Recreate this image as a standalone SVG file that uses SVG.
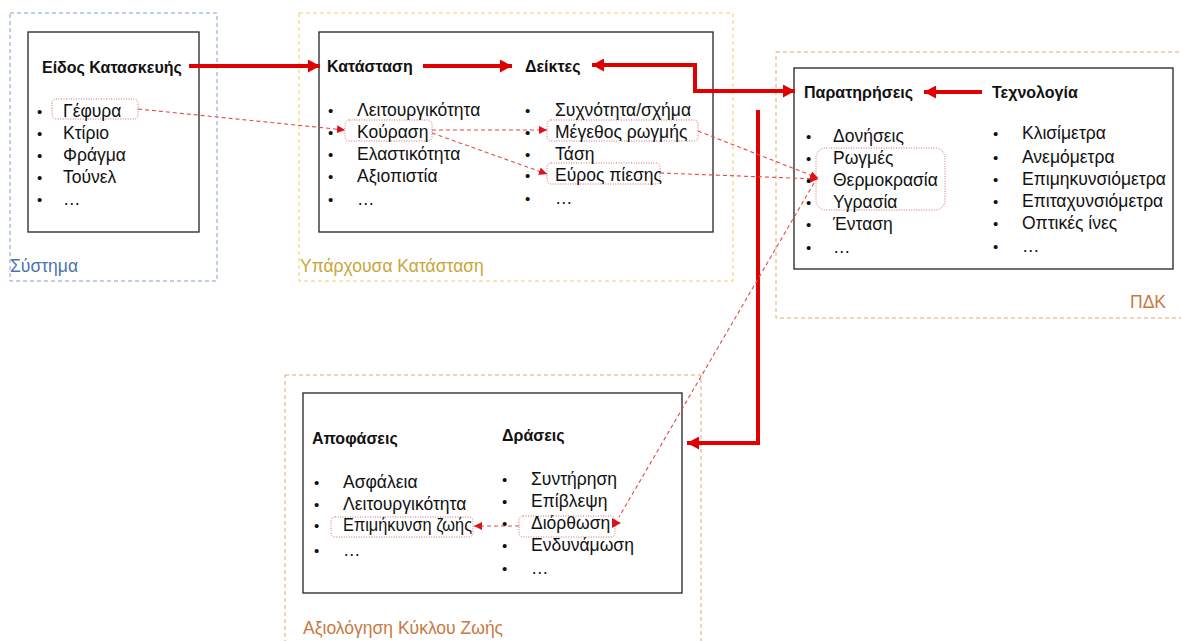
<svg xmlns="http://www.w3.org/2000/svg" width="1181" height="641" viewBox="0 0 1181 641">
  <defs>
    <marker id="bigHead" markerUnits="userSpaceOnUse" markerWidth="12" markerHeight="13" refX="12" refY="6.5" orient="auto-start-reverse">
      <path d="M0,0 L12,6.5 L0,13 z" fill="#e00000"/>
    </marker>
    <marker id="smallHead" markerUnits="userSpaceOnUse" markerWidth="8" markerHeight="8" refX="8" refY="4" orient="auto">
      <path d="M0,0 L8,4 L0,8 z" fill="#e0101a"/>
    </marker>
    <style>
      text { font-family: "Liberation Sans", Arial, sans-serif; font-size: 17.5px; fill: #111; dominant-baseline: central; }
      .title { font-weight: bold; font-size: 16px; }
      .bul { font-size: 15px; }
      .grp { fill: none; stroke-width: 1; stroke-dasharray: 4 3; }
      .box { fill: #fff; stroke: #222; stroke-width: 1.3; }
      .hl { fill: none; stroke: #d46a6a; stroke-width: 1; stroke-dasharray: 1 1.5; }
      .thick { fill: none; stroke: #e00000; stroke-width: 4; }
      .thin { fill: none; stroke: #e04a4a; stroke-width: 1.1; stroke-dasharray: 4 3; }
    </style>
  </defs>

  <rect width="1181" height="641" fill="#fff"/>

  <!-- System group -->
  <g id="system">
    <rect class="grp" x="10" y="13" width="207" height="268" stroke="#7f9fcf"/>
    <rect class="box" x="28" y="32" width="171" height="200"/>
    <text x="42" y="67" class="title">Είδος Κατασκευής</text>
    <rect class="hl" x="52" y="99" width="86" height="20" rx="4"/>
    <g>
      <text x="37" y="111" class="bul">•</text><text x="63" y="111">Γέφυρα</text>
      <text x="37" y="133" class="bul">•</text><text x="63" y="133">Κτίριο</text>
      <text x="37" y="155" class="bul">•</text><text x="63" y="155">Φράγμα</text>
      <text x="37" y="177" class="bul">•</text><text x="63" y="177">Τούνελ</text>
      <text x="37" y="199" class="bul">•</text><text x="63" y="199">…</text>
    </g>
    <text x="10" y="266" style="fill:#4a74b0">Σύστημα</text>
  </g>

  <!-- Current condition group -->
  <g id="current-state">
    <rect class="grp" x="299" y="13" width="434" height="268" stroke="#f0cf6a"/>
    <rect class="box" x="319" y="32" width="394" height="200"/>
    <text x="327" y="66" class="title">Κατάσταση</text>
    <text x="525" y="66" class="title">Δείκτες</text>
    <rect class="hl" x="345" y="120" width="87" height="21" rx="4"/>
    <rect class="hl" x="547" y="120" width="151" height="21" rx="4"/>
    <rect class="hl" x="547" y="163" width="113" height="21" rx="4"/>
    <g>
      <text x="328" y="110" class="bul">•</text><text x="357" y="110">Λειτουργικότητα</text>
      <text x="328" y="132" class="bul">•</text><text x="357" y="132">Κούραση</text>
      <text x="328" y="154" class="bul">•</text><text x="357" y="154">Ελαστικότητα</text>
      <text x="328" y="176" class="bul">•</text><text x="357" y="176">Αξιοπιστία</text>
      <text x="328" y="199" class="bul">•</text><text x="357" y="199">…</text>
      <text x="525" y="110" class="bul">•</text><text x="555" y="110">Συχνότητα/σχήμα</text>
      <text x="525" y="132" class="bul">•</text><text x="555" y="132">Μέγεθος ρωγμής</text>
      <text x="525" y="154" class="bul">•</text><text x="555" y="154">Τάση</text>
      <text x="525" y="175" class="bul">•</text><text x="555" y="175">Εύρος πίεσης</text>
      <text x="525" y="198" class="bul">•</text><text x="555" y="198">…</text>
    </g>
    <text x="300" y="266" style="fill:#c9a538">Υπάρχουσα Κατάσταση</text>
  </g>

  <!-- Monitoring group -->
  <g id="shm">
    <rect class="grp" x="776" y="52" width="410" height="266" stroke="#e4a772"/>
    <rect class="box" x="794" y="68" width="379" height="201"/>
    <text x="804" y="92" class="title">Παρατηρήσεις</text>
    <text x="992" y="92" class="title">Τεχνολογία</text>
    <rect class="hl" x="816" y="148" width="129" height="62" rx="10"/>
    <g>
      <text x="806" y="136" class="bul">•</text><text x="833" y="136">Δονήσεις</text>
      <text x="806" y="158" class="bul">•</text><text x="833" y="158">Ρωγμές</text>
      <text x="806" y="180" class="bul">•</text><text x="833" y="180">Θερμοκρασία</text>
      <text x="806" y="202" class="bul">•</text><text x="833" y="202">Υγρασία</text>
      <text x="806" y="224" class="bul">•</text><text x="833" y="224">Ένταση</text>
      <text x="806" y="247" class="bul">•</text><text x="833" y="247">…</text>
      <text x="993" y="133" class="bul">•</text><text x="1022" y="133">Κλισίμετρα</text>
      <text x="993" y="157" class="bul">•</text><text x="1022" y="157">Ανεμόμετρα</text>
      <text x="993" y="179" class="bul">•</text><text x="1022" y="179">Επιμηκυνσιόμετρα</text>
      <text x="993" y="201" class="bul">•</text><text x="1022" y="201">Επιταχυνσιόμετρα</text>
      <text x="993" y="223" class="bul">•</text><text x="1022" y="223">Οπτικές ίνες</text>
      <text x="993" y="246" class="bul">•</text><text x="1022" y="246">…</text>
    </g>
    <text x="1166" y="302" text-anchor="end" style="fill:#c8783e">ΠΔΚ</text>
  </g>

  <!-- Life-cycle assessment group -->
  <g id="lifecycle">
    <rect class="grp" x="285" y="375" width="416" height="275" stroke="#e4a772"/>
    <rect class="box" x="303" y="393" width="379" height="200"/>
    <text x="312" y="438" class="title">Αποφάσεις</text>
    <text x="502" y="435" class="title">Δράσεις</text>
    <rect class="hl" x="331" y="517" width="142" height="20" rx="4"/>
    <rect class="hl" x="519" y="516" width="96" height="21" rx="4"/>
    <g>
      <text x="314" y="482" class="bul">•</text><text x="343" y="482">Ασφάλεια</text>
      <text x="314" y="504" class="bul">•</text><text x="343" y="504">Λειτουργικότητα</text>
      <text x="314" y="525" class="bul">•</text><text x="343" y="525" textLength="129" lengthAdjust="spacingAndGlyphs">Επιμήκυνση ζωής</text>
      <text x="314" y="550" class="bul">•</text><text x="343" y="550">…</text>
      <text x="502" y="479" class="bul">•</text><text x="531" y="479">Συντήρηση</text>
      <text x="502" y="501" class="bul">•</text><text x="531" y="501">Επίβλεψη</text>
      <text x="502" y="523" class="bul">•</text><text x="531" y="523">Διόρθωση</text>
      <text x="502" y="545" class="bul">•</text><text x="531" y="545">Ενδυνάμωση</text>
      <text x="502" y="568" class="bul">•</text><text x="531" y="568">…</text>
    </g>
    <text x="303" y="628" style="fill:#c8783e">Αξιολόγηση Κύκλου Ζωής</text>
  </g>

  <!-- Connectors -->
  <g id="connectors">
    <line class="thick" x1="189" y1="66" x2="320" y2="66" marker-end="url(#bigHead)"/>
    <line class="thick" x1="423" y1="66" x2="512" y2="66" marker-end="url(#bigHead)"/>
    <polyline class="thick" points="592,65 695,65 695,91 795,91" marker-start="url(#bigHead)" marker-end="url(#bigHead)"/>
    <line class="thick" x1="982" y1="92" x2="924" y2="92" marker-end="url(#bigHead)"/>
    <polyline class="thick" points="758,110 758,443 687,443" marker-end="url(#bigHead)"/>

    <line class="thin" x1="138" y1="109" x2="345" y2="130" marker-end="url(#smallHead)"/>
    <line class="thin" x1="432" y1="130" x2="547" y2="130" marker-end="url(#smallHead)"/>
    <line class="thin" x1="432" y1="133" x2="547" y2="174" marker-end="url(#smallHead)"/>
    <line class="thin" x1="698" y1="131" x2="818" y2="178" marker-end="url(#smallHead)"/>
    <line class="thin" x1="660" y1="173" x2="818" y2="179" marker-end="url(#smallHead)"/>
    <line class="thin" x1="814" y1="183" x2="619" y2="517"/>
    <polygon points="612,518 621,523 612,528" fill="#e0101a"/>
    <line class="thin" x1="519" y1="526" x2="474" y2="526" marker-end="url(#smallHead)"/>
  </g>
</svg>
